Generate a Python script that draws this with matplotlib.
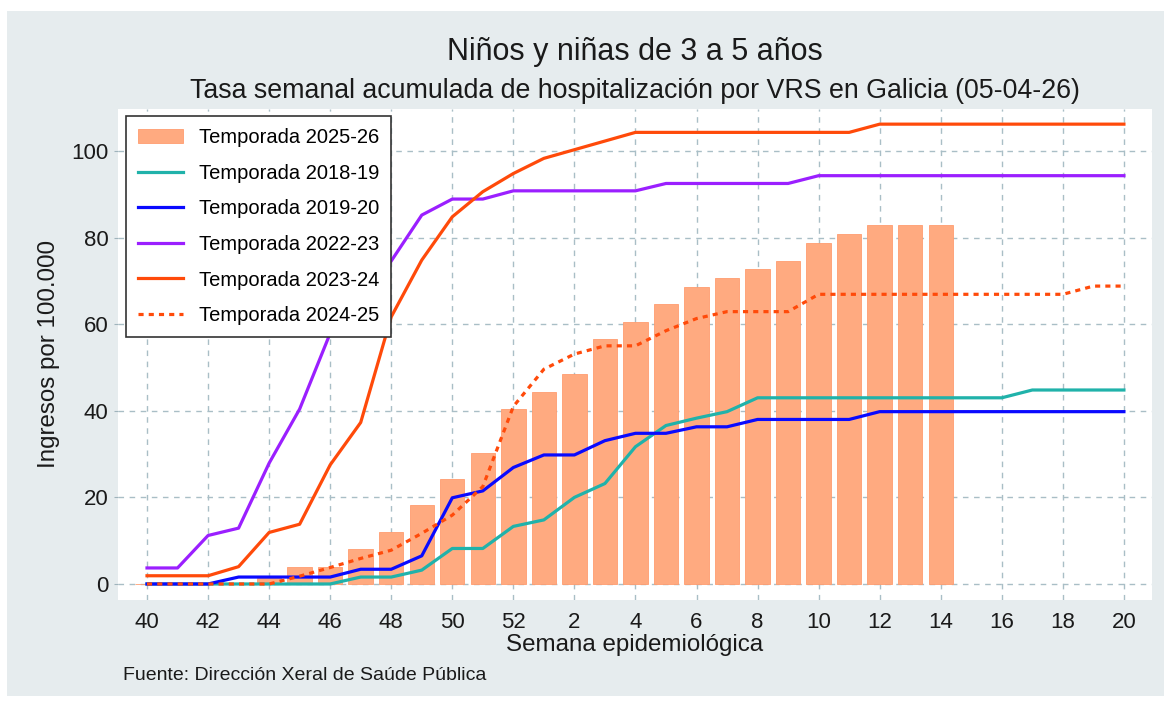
import matplotlib.pyplot as plt
import matplotlib.patches as mpatches
import numpy as np

plt.rcParams['font.family'] = ['Liberation Sans', 'DejaVu Sans']

# semanas epidemiológicas (40 a 52 y 1 a 20)
semanas = list(range(40, 53)) + list(range(1, 21))

# Temporada actual (barras) hasta la semana 14
t2025_26 = [0, 0, 0, 0, 1.4, 4.0, 4.0, 8.1, 12.1, 18.2, 24.2, 30.3, 40.4,
            44.4, 48.5, 56.6, 60.6, 64.7, 68.7, 70.7, 72.7, 74.7, 78.8,
            80.8, 82.8, 82.8, 82.8]

t2018_19 = [0, 0, 0, 0, 0, 0, 0, 1.6, 1.6, 3.2, 8.2, 8.2, 13.3,
            14.8, 20.0, 23.2, 31.7, 36.6, 38.3, 39.8, 43.0,
            43.0, 43.0, 43.0, 43.0, 43.0, 43.0, 43.0, 43.0,
            44.8, 44.8, 44.8, 44.8]

t2019_20 = [0, 0, 0, 1.6, 1.6, 1.6, 1.6, 3.4, 3.4, 6.5, 19.9, 21.5, 26.9,
            29.8, 29.8, 33.1, 34.8, 34.8, 36.3, 36.3,
            38.0, 38.0, 38.0, 38.0,
            39.8, 39.8, 39.8, 39.8, 39.8, 39.8, 39.8, 39.8, 39.8]

t2022_23 = [3.7, 3.7, 11.2, 12.9, 27.9, 40.4, 57.9, 66.2, 74.6, 85.2, 88.9, 88.9, 90.8,
            90.8, 90.8, 90.8, 90.8,
            92.5, 92.5, 92.5, 92.5, 92.5,
            94.3, 94.3, 94.3, 94.3, 94.3, 94.3, 94.3, 94.3, 94.3, 94.3, 94.3]

t2023_24 = [1.9, 1.9, 1.9, 4.0, 11.9, 13.8, 27.5, 37.3, 61.7, 74.8, 84.8, 90.6, 94.8,
            98.3, 100.3, 102.3,
            104.3, 104.3, 104.3, 104.3, 104.3, 104.3, 104.3, 104.3,
            106.2, 106.2, 106.2, 106.2, 106.2, 106.2, 106.2, 106.2, 106.2]

t2024_25 = [0, 0, 0, 0, 0, 1.8, 3.8, 5.9, 7.8, 11.7, 15.9, 22.5, 41.0,
            49.6, 53.1, 55.0, 55.0, 58.5, 61.3,
            62.9, 62.9, 62.9,
            66.9, 66.9, 66.9, 66.9, 66.9, 66.9, 66.9, 66.9, 66.9,
            68.8, 68.8]

x = np.arange(len(semanas))

fig = plt.figure(figsize=(11.64, 7.06), dpi=100, facecolor='white')
# fondo gris del gráfico (detrás de los ejes)
fig.patches.append(mpatches.Rectangle((7 / 1164, 10 / 706), 1 - 7 / 1164, 1 - 21 / 706,
                                      transform=fig.transFigure, facecolor='#e6ecee',
                                      edgecolor='none', zorder=-10))

ax = fig.add_axes([118 / 1164, 106 / 706, 1034 / 1164, 491 / 706])
ax.set_facecolor('white')

bars = ax.bar(x[:len(t2025_26)], t2025_26, width=0.8, color='#ffaa80',
              edgecolor='#ff9d70', linewidth=0.6, zorder=2, label='Temporada 2025-26')

l1, = ax.plot(x, t2018_19, color='#20b2aa', lw=2.3, zorder=3, label='Temporada 2018-19')
l2, = ax.plot(x, t2019_20, color='#0a0aff', lw=2.3, zorder=3, label='Temporada 2019-20')
l3, = ax.plot(x, t2022_23, color='#9b1fff', lw=2.3, zorder=3, label='Temporada 2022-23')
l4, = ax.plot(x, t2023_24, color='#ff4a0a', lw=2.3, zorder=3, label='Temporada 2023-24')
l5, = ax.plot(x, t2024_25, color='#ff4a0a', lw=2.3, ls=(0, (1.6, 1.6)), zorder=3,
              label='Temporada 2024-25')

ax.set_xlim(-0.95, 32.92)
ax.set_ylim(-3.7, 109.7)

ticks = x[::2]
ax.set_xticks(ticks)
ax.set_xticklabels([str(semanas[i]) for i in ticks], fontsize=16, color='#1a1a1a')
ax.set_yticks([0, 20, 40, 60, 80, 100])
ax.set_yticklabels(['0', '20', '40', '60', '80', '100'], fontsize=16, color='#1a1a1a')
ax.tick_params(axis='x', length=0, pad=9)
ax.tick_params(axis='y', length=3, color='#9fb3bb', pad=4)

ax.grid(True, color='#a9bec6', ls=(0, (4, 4)), lw=1, zorder=1)
ax.set_axisbelow(True)
for s in ax.spines.values():
    s.set_visible(False)

ax.set_xlabel('Semana epidemiológica', fontsize=17.4, color='#1a1a1a', labelpad=0)
ax.set_ylabel('Ingresos por 100.000', fontsize=17.4, color='#1a1a1a', labelpad=8)

fig.text(0.5457, 1 - 52 / 706, 'Niños y niñas de 3 a 5 años', ha='center', va='center',
         fontsize=22, color='#1a1a1a')
fig.text(0.5457, 1 - 91 / 706, 'Tasa semanal acumulada de hospitalización por VRS en Galicia (05-04-26)',
         ha='center', va='center', fontsize=19.3, color='#1a1a1a')
fig.text(123 / 1164, 1 - 675 / 706, 'Fuente: Dirección Xeral de Saúde Pública',
         ha='left', va='center', fontsize=14, color='#1a1a1a')

leg = ax.legend(handles=[bars, l1, l2, l3, l4, l5], loc='upper left',
                bbox_to_anchor=(0.008, 0.985), borderaxespad=0, fontsize=14.5,
                frameon=True, fancybox=False, edgecolor='#333333', framealpha=1,
                labelspacing=0.82, handlelength=2.2, handletextpad=0.8,
                borderpad=0.6)
leg.get_frame().set_linewidth(1.2)
leg.set_zorder(5)

fig.savefig('out.png', dpi=100, facecolor=fig.get_facecolor())
